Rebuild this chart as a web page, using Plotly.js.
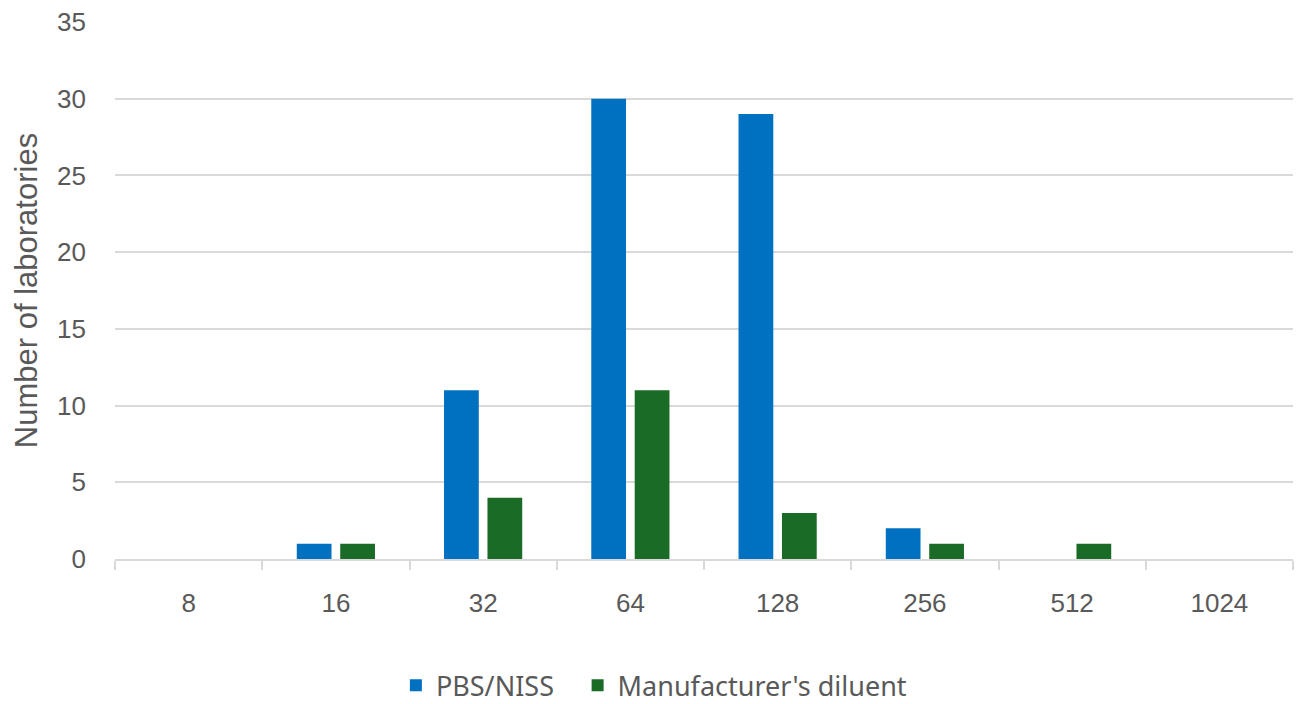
<!DOCTYPE html>
<html>
<head>
<meta charset="utf-8">
<script src="https://cdn.plot.ly/plotly-3.0.1.min.js"></script>
<style>html,body{margin:0;padding:0;background:#fff;}#chart{width:1298px;height:704px;}</style>
</head>
<body>
<div id="chart"></div>
<script>
const categories = ['8', '16', '32', '64', '128', '256', '512', '1024'];
const pbsNiss = [0, 1, 11, 30, 29, 2, 0, 0];
const manufacturerDiluent = [0, 1, 4, 11, 3, 1, 1, 0];
const yTicks = [0, 5, 10, 15, 20, 25, 30, 35];

const traces = [
  {type: 'bar', name: 'PBS/NISS', x: categories, y: pbsNiss, marker: {color: '#0070c0'}, legend: 'legend'},
  {type: 'bar', name: "Manufacturer's diluent", x: categories, y: manufacturerDiluent, marker: {color: '#1a6b25'}, legend: 'legend2'}
];

const legendFont = {family: 'Noto Sans, sans-serif', size: 27, color: '#595959'};

const layout = {
  width: 1298, height: 704,
  margin: {l: 115, r: 5, t: 22, b: 145},
  paper_bgcolor: '#fff', plot_bgcolor: '#fff',
  barmode: 'group', bargap: 0.41, bargroupgap: 0.2,
  font: {family: 'Liberation Sans, Arial, sans-serif', color: '#595959', size: 26},
  xaxis: {
    type: 'category', tickson: 'boundaries', ticks: 'outside', ticklen: 9, tickcolor: '#d9d9d9', tickwidth: 2,
    showline: true, linecolor: '#d9d9d9', linewidth: 2, showgrid: false,
    ticklabelstandoff: 20, tickfont: {size: 26, color: '#595959'}
  },
  yaxis: {
    range: [0, 35], tickvals: yTicks, ticktext: yTicks.map(String), showgrid: true, gridcolor: '#d9d9d9', gridwidth: 2,
    zeroline: false, showline: false, ticks: '', ticklabelstandoff: 28,
    tickfont: {size: 26, color: '#595959'},
    title: {text: 'Number of laboratories', font: {size: 31, color: '#595959'}, standoff: 10}
  },
  showlegend: true,
  legend: {
    orientation: 'h', xref: 'container', yref: 'container', x: 0.305, xanchor: 'left', y: 0.026, yanchor: 'middle',
    font: legendFont, itemwidth: 30
  },
  legend2: {
    orientation: 'h', xref: 'container', yref: 'container', x: 0.445, xanchor: 'left', y: 0.026, yanchor: 'middle',
    font: legendFont, itemwidth: 30
  }
};

Plotly.newPlot('chart', traces, layout, {displayModeBar: false, staticPlot: true});
</script>
</body>
</html>
